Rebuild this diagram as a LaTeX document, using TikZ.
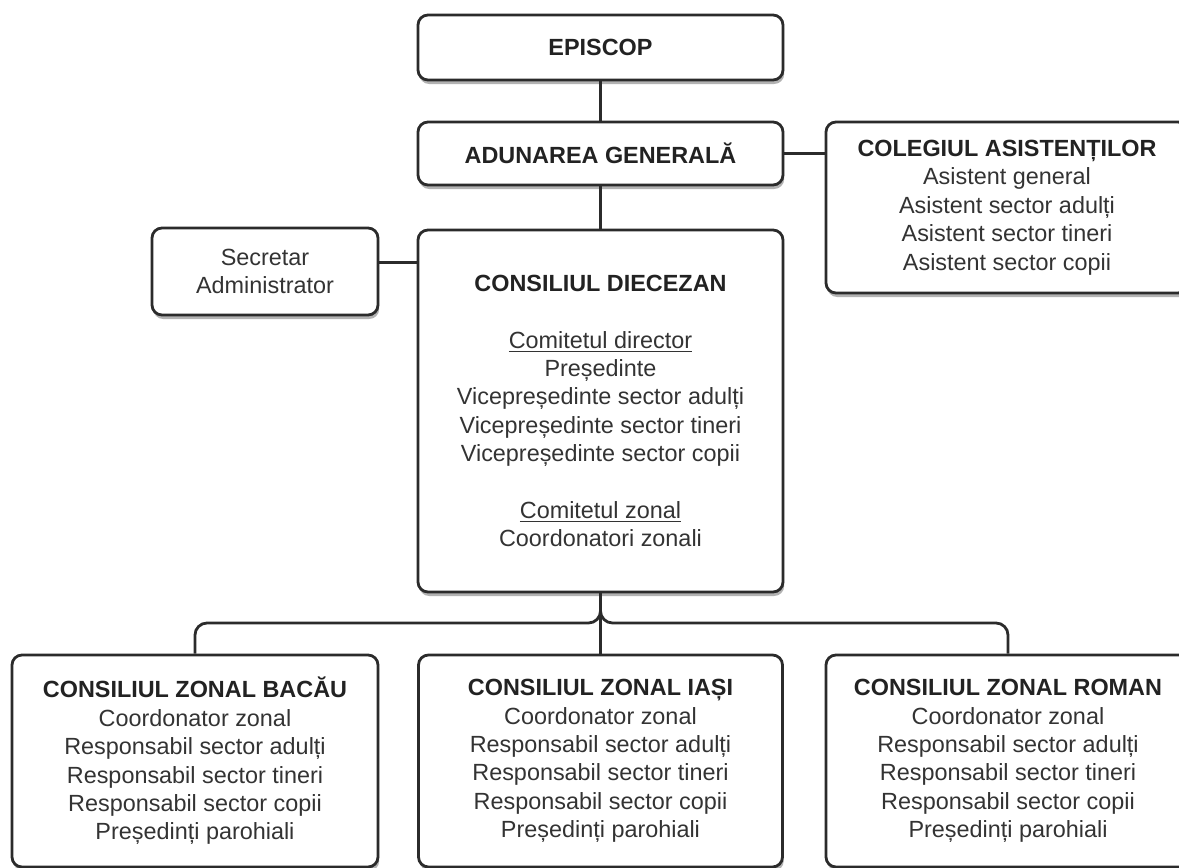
\documentclass[tikz,border=0pt]{standalone}
\usepackage{fontspec}
\setmainfont{Liberation Sans}
\usetikzlibrary{shadows}
\definecolor{ink}{HTML}{333333}
\definecolor{inkb}{HTML}{222222}
\definecolor{edge}{HTML}{2B2B2B}
\begin{document}
\begin{tikzpicture}[x=0.5pt,y=-0.5pt,
  box/.style={draw=edge, line width=1.4pt, rounded corners=5pt, fill=white,
    align=center, text=ink, inner sep=0pt,
    font=\fontsize{11.7pt}{14.2pt}\selectfont,
    drop shadow={shadow xshift=0.6pt, shadow yshift=-2pt, fill=black, opacity=0.3}},
  link/.style={draw=edge, line width=1.4pt}]
\useasboundingbox (0,0) rectangle (1179,868);
\clip (0,0) rectangle (1179,868);
\newcommand{\hd}[1]{\textcolor{inkb}{\textbf{#1}}}

\node[box, minimum width=182.5pt, minimum height=32.5pt] (ep) at (600.5,47.5) {\hd{EPISCOP}};
\node[box, minimum width=182.5pt, minimum height=31.5pt] (ag) at (600.5,153.5) {\hd{ADUNAREA GENERALĂ}};
\node[box, minimum width=182.5pt, minimum height=181pt] (cd) at (600.5,411) {\hd{CONSILIUL DIECEZAN}\\[14.2pt]
  \underline{Comitetul director}\\
  Președinte\\
  Vicepreședinte sector adulți\\
  Vicepreședinte sector tineri\\
  Vicepreședinte sector copii\\[14.2pt]
  \underline{Comitetul zonal}\\
  Coordonatori zonali};
\node[box, minimum width=113pt, minimum height=43.5pt] (sa) at (265,271.5) {Secretar\\Administrator};
\node[box, minimum width=181pt, minimum height=85.5pt] (ca) at (1007,207.5) {\hd{COLEGIUL ASISTENȚILOR}\\
  Asistent general\\
  Asistent sector adulți\\
  Asistent sector tineri\\
  Asistent sector copii};

\node[box, minimum width=183pt, minimum height=106pt] (zb) at (195,761) {\hd{CONSILIUL ZONAL BACĂU}\\
  Coordonator zonal\\
  Responsabil sector adulți\\
  Responsabil sector tineri\\
  Responsabil sector copii\\
  Președinți parohiali};
\node[box, minimum width=182pt, minimum height=106pt] (zi) at (600.5,761) {\hd{CONSILIUL ZONAL IAȘI}\\
  Coordonator zonal\\
  Responsabil sector adulți\\
  Responsabil sector tineri\\
  Responsabil sector copii\\
  Președinți parohiali};
\node[box, minimum width=182pt, minimum height=106pt] (zr) at (1008,761) {\hd{CONSILIUL ZONAL ROMAN}\\
  Coordonator zonal\\
  Responsabil sector adulți\\
  Responsabil sector tineri\\
  Responsabil sector copii\\
  Președinți parohiali};

\coordinate (bus) at (600.5,623);
\coordinate (se) at ([yshift=4.5pt]sa.east);
\draw[link] (ep) -- (ag);
\draw[link] (ag) -- (cd);
\draw[link] (ag.east) -- (ca.west |- ag.east);
\draw[link] (se) -- (cd.west |- se);
\draw[link] (cd.south) -- (zi.north);
\draw[link, rounded corners=6pt] (cd.south) -- (bus) -| (zb.north);
\draw[link, rounded corners=6pt] (cd.south) -- (bus) -| (zr.north);
\end{tikzpicture}
\end{document}
